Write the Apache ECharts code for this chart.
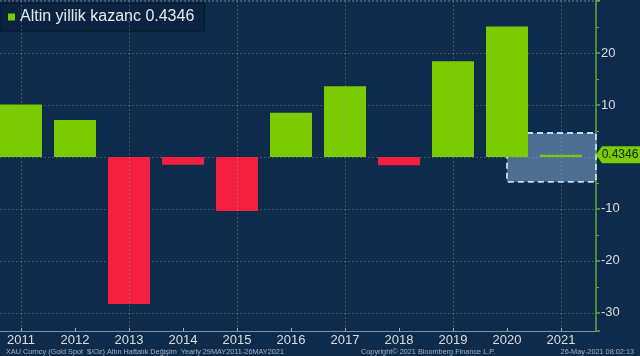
<!DOCTYPE html>
<html>
<head>
<meta charset="utf-8">
<script src="https://cdn.jsdelivr.net/npm/echarts@6/dist/echarts.min.js"></script>
<style>
html,body{margin:0;padding:0;background:#0f2b4b;}
#c{width:640px;height:356px;}
</style>
</head>
<body>
<div id="c"></div>
<script>
// ---- data ----
const years = [2011, 2012, 2013, 2014, 2015, 2016, 2017, 2018, 2019, 2020, 2021];
const gains = [10.1, 7.1, -28.3, -1.5, -10.4, 8.5, 13.6, -1.6, 18.4, 25.1, 0.4346];
const gridYears = [2011, 2013, 2015, 2017, 2019, 2021];
const seriesName = 'Altin yillik kazanc';
const lastValue = gains[gains.length - 1];
const highlightBox = { fromYear: 2020, high: 4.6, low: -4.8 };
const footerLeft = 'XAU Curncy (Gold Spot  $/Oz) Altın Haftalık Değişim  Yearly 29MAY2011-26MAY2021';
const footerMid = 'Copyright© 2021 Bloomberg Finance L.P.';
const footerRight = '26-May-2021 08:02:13';

// axis ranges
const xMin = 2010.6111, xMax = 2021.6481;
const yMin = -33.5, yMax = 30.2;

const GREEN = '#7acc00', RED = '#f5203e';
const FONT = 'Liberation Sans';

const chart = echarts.init(document.getElementById('c'), null, { renderer: 'canvas' });
chart.setOption({
  backgroundColor: '#0f2b4b',
  animation: false,
  textStyle: { fontFamily: FONT },
  title: [
    { text: footerLeft, left: 1, top: 343, textStyle: { fontSize: 7.3, color: '#a3b0bf', fontWeight: 'normal', fontFamily: FONT } },
    { text: footerMid, left: 356, top: 343, textStyle: { fontSize: 7.3, color: '#a3b0bf', fontWeight: 'normal', fontFamily: FONT } },
    { text: footerRight, right: 1, top: 343, textStyle: { fontSize: 7.3, color: '#a3b0bf', fontWeight: 'normal', fontFamily: FONT } }
  ],
  legend: {
    left: 0, top: 3,
    padding: [6, 10, 6, 8],
    itemWidth: 7, itemHeight: 7, itemGap: 4,
    icon: 'rect',
    backgroundColor: '#0b2340',
    borderColor: '#061627', borderWidth: 1,
    textStyle: { color: '#e6eaee', fontSize: 16, fontFamily: FONT, padding: [2, 0, 0, 0] },
    formatter: (n) => n + ' ' + lastValue,
    data: [{ name: seriesName, itemStyle: { color: GREEN } }]
  },
  grid: { left: 0, right: 44, top: 0, bottom: 25, containLabel: false },
  xAxis: {
    type: 'value', min: xMin, max: xMax, minInterval: 1, maxInterval: 1,
    axisLine: { show: true, onZero: false, lineStyle: { color: '#7f93a8', width: 1 } },
    axisTick: { show: true, inside: true, length: 3, lineStyle: { color: '#9fb0c2' } },
    axisLabel: {
      color: '#d9dee4', fontSize: 13, margin: 3, fontFamily: FONT,
      showMinLabel: false, showMaxLabel: false,
      formatter: (v) => (Math.abs(v - Math.round(v)) < 1e-6 && years.includes(Math.round(v))) ? String(Math.round(v)) : ''
    },
    splitLine: { show: false }
  },
  yAxis: {
    type: 'value', position: 'right', min: yMin, max: yMax, minInterval: 10, maxInterval: 10,
    axisLine: { show: true, lineStyle: { color: '#62a83a', width: 1.5 } },
    axisTick: { show: true, length: 4, lineStyle: { color: '#62a83a', width: 1.5 } },
    minorTick: { show: true, splitNumber: 2, length: 3, lineStyle: { color: '#62a83a' } },
    axisLabel: {
      color: '#d9dee4', fontSize: 13, margin: 5, fontFamily: FONT,
      showMinLabel: false, showMaxLabel: false,
      formatter: (v) => (v === 0 || v > 25 || v % 10 !== 0) ? '' : String(v)
    },
    splitLine: { show: true, lineStyle: { color: 'rgba(150,170,195,0.35)', type: [2, 2], width: 1 } }
  },
  series: [
    {
      name: seriesName,
      type: 'bar',
      barWidth: 42,
      clip: false,
      data: years.map((y, i) => [y, gains[i]]),
      itemStyle: { color: (p) => p.value[1] >= 0 ? GREEN : RED },
      markLine: {
        silent: true, symbol: 'none', label: { show: false },
        lineStyle: { color: 'rgba(150,170,195,0.35)', type: [2, 2], width: 1 },
        data: gridYears.map((y) => ({ xAxis: y }))
      },
      z: 2
    },
    {
      name: 'box',
      type: 'line',
      data: [],
      z: 10,
      markArea: {
        silent: true,
        itemStyle: {
          color: 'rgba(125,165,205,0.55)',
          borderColor: '#c4dcf2', borderWidth: 1.8, borderType: [6, 4]
        },
        data: [[{ coord: [highlightBox.fromYear, highlightBox.high] }, { coord: [xMax, highlightBox.low] }]]
      },
      markPoint: {
        silent: true,
        symbol: 'path://M0,9 L6,0 L46,0 L46,18 L6,18 Z',
        symbolSize: [46, 17],
        symbolKeepAspect: false,
        symbolOffset: [23, 0],
        itemStyle: { color: GREEN },
        label: { show: true, color: '#10220a', fontSize: 12, fontFamily: FONT, offset: [1, 0], formatter: String(lastValue) },
        data: [{ coord: [xMax, lastValue] }]
      }
    }
  ]
});
</script>
</body>
</html>
